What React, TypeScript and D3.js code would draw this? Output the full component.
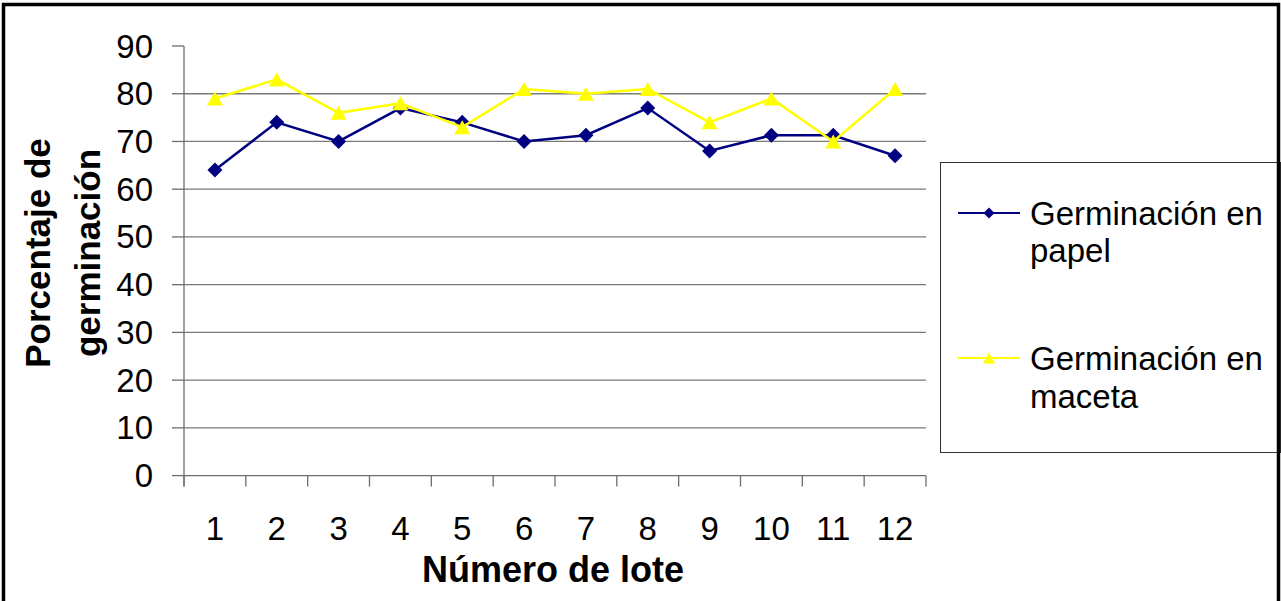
import React from "react";
import * as d3 from "d3";

const lotes = ["1", "2", "3", "4", "5", "6", "7", "8", "9", "10", "11", "12"];
const papel = [64, 74, 70, 77, 74, 70, 71.3, 77, 68, 71.3, 71.3, 67];
const maceta = [79, 83, 76, 78, 73, 81, 80, 81, 74, 79, 70, 81];
const yTicks = [0, 10, 20, 30, 40, 50, 60, 70, 80, 90];
const seriesNames = ["Germinación en papel", "Germinación en maceta"];

const W = 1281;
const H = 601;
const plot = { left: 184, right: 926, top: 46, bottom: 475.6 };
const FONT = "'Liberation Sans', Arial, sans-serif";

export default function App() {
  const x = d3.scaleBand<string>().domain(lotes).range([plot.left, plot.right]);
  const y = d3.scaleLinear().domain([0, 90]).range([plot.bottom, plot.top]);
  const cx = (i: number) => (x(lotes[i]) as number) + x.bandwidth() / 2;
  const line = d3
    .line<number>()
    .x((_, i) => cx(i))
    .y((d) => y(d));

  const diamond = (px: number, py: number, r: number) =>
    `M${px},${py - r}L${px + r},${py}L${px},${py + r}L${px - r},${py}Z`;
  const triangle = (px: number, py: number, w: number, h: number) =>
    `M${px},${py - h / 2}L${px + w / 2},${py + h / 2}L${px - w / 2},${py + h / 2}Z`;

  const boundaries = lotes.map((l) => x(l) as number).concat([plot.right]);

  return (
    <svg
      width={W}
      height={H}
      style={{ position: "absolute", left: 0, top: 0, background: "#fff" }}
      fontFamily={FONT}
    >
      <rect x={0} y={0} width={W} height={H} fill="#fff" />
      {/* gridlines */}
      {yTicks
        .filter((t) => t > 0 && t < 90)
        .map((t) => (
          <line key={"g" + t} x1={plot.left} x2={plot.right} y1={y(t)} y2={y(t)} stroke="#7a7a7a" strokeWidth={1.3} />
        ))}
      {/* y axis */}
      <line x1={plot.left} x2={plot.left} y1={plot.top} y2={plot.bottom + 11} stroke="#6e6e6e" strokeWidth={1.3} />
      {yTicks.map((t) => (
        <g key={"yt" + t}>
          <line x1={plot.left - 12} x2={plot.left} y1={y(t)} y2={y(t)} stroke="#6e6e6e" strokeWidth={1.3} />
          <text x={153} y={y(t)} dy="0.35em" textAnchor="end" fontSize={33} fill="#000">
            {t}
          </text>
        </g>
      ))}
      {/* x axis */}
      <line x1={plot.left} x2={plot.right} y1={plot.bottom} y2={plot.bottom} stroke="#6e6e6e" strokeWidth={1.3} />
      {boundaries.map((bx, i) => (
        <line key={"xt" + i} x1={bx} x2={bx} y1={plot.bottom} y2={plot.bottom + 11} stroke="#6e6e6e" strokeWidth={1.3} />
      ))}
      {lotes.map((l, i) => (
        <text key={"xl" + l} x={cx(i)} y={540} textAnchor="middle" fontSize={33} fill="#000">
          {l}
        </text>
      ))}
      {/* axis titles */}
      <text x={553} y={582} textAnchor="middle" fontSize={36} fontWeight="bold" fill="#000">
        Número de lote
      </text>
      <g transform="translate(0,253) rotate(-90)">
        <text x={0} y={50} textAnchor="middle" fontSize={35} fontWeight="bold" fill="#000">
          Porcentaje de
        </text>
        <text x={0} y={100} textAnchor="middle" fontSize={35} fontWeight="bold" fill="#000">
          germinación
        </text>
      </g>
      {/* series: papel */}
      <path d={line(papel) || ""} fill="none" stroke="#000080" strokeWidth={2.5} />
      {papel.map((v, i) => (
        <path key={"pm" + i} d={diamond(cx(i), y(v), 7.5)} fill="#000080" />
      ))}
      {/* series: maceta */}
      <path d={line(maceta) || ""} fill="none" stroke="#FFFF00" strokeWidth={2.5} />
      {maceta.map((v, i) => (
        <path key={"mm" + i} d={triangle(cx(i), y(v), 16, 14)} fill="#FFFF00" />
      ))}
      {/* legend */}
      <rect x={940.5} y={162.5} width={340} height={290} fill="#fff" stroke="#333" strokeWidth={1} />
      <line x1={958} x2={1020} y1={213} y2={213} stroke="#000080" strokeWidth={2} />
      <path d={diamond(989, 213, 5.5)} fill="#000080" />
      <text x={1030} y={225} fontSize={33} fill="#000">Germinación en</text>
      <text x={1030} y={262} fontSize={33} fill="#000">papel</text>
      <line x1={958} x2={1020} y1={358} y2={358} stroke="#FFFF00" strokeWidth={2} />
      <path d={triangle(989, 358, 12, 11)} fill="#FFFF00" />
      <text x={1030} y={370} fontSize={33} fill="#000">Germinación en</text>
      <text x={1030} y={408} fontSize={33} fill="#000">maceta</text>
      {/* outer border */}
      <rect x={3.5} y={4.5} width={1275} height={700} fill="none" stroke="#000" strokeWidth={3.5} />
      <title>{seriesNames.join(", ")}</title>
    </svg>
  );
}
